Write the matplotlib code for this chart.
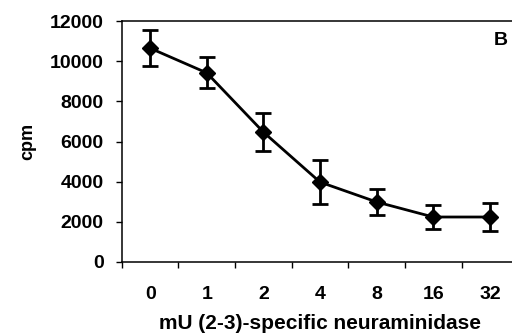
import numpy as np
import matplotlib
matplotlib.use('Agg')
import matplotlib.pyplot as plt

plt.rcParams['font.family'] = 'Liberation Sans'
plt.rcParams['font.weight'] = 'bold'

doses = ['0', '1', '2', '4', '8', '16', '32']
cpm = [10650, 9420, 6470, 3980, 2990, 2240, 2240]
err = [900, 770, 950, 1100, 670, 620, 700]

fig = plt.figure(figsize=(5.12, 3.35), dpi=100)
ax = fig.add_axes([0.238, 0.218, 0.774, 0.719])

x = np.arange(len(doses))
ax.errorbar(x, cpm, yerr=err, color='black', lw=2.0, marker='D', ms=8,
            elinewidth=2.0, capsize=5.5, capthick=2.0)

ax.set_xlim(-0.5, len(doses) - 0.5)
ax.set_ylim(0, 12000)
ax.set_yticks(range(0, 12001, 2000))
ax.set_xticks(x)
ax.set_xticklabels(doses)
ax.set_xticks(np.arange(-0.5, len(doses)), minor=True)
ax.tick_params(axis='x', which='major', length=0, pad=17, labelsize=14)
ax.tick_params(axis='x', which='minor', length=4, width=1, direction='out')
ax.tick_params(axis='y', length=4, width=1, direction='out', labelsize=14, pad=9)

for s in ['left', 'bottom', 'top']:
    ax.spines[s].set_linewidth(1.1)
ax.spines['right'].set_visible(False)

ax.set_ylabel('cpm', fontsize=13, fontweight='bold', labelpad=10)
ax.set_xlabel('mU (2-3)-specific neuraminidase', fontsize=15, fontweight='bold', labelpad=8)
fig.text(0.979, 0.88, 'B', fontsize=14, fontweight='bold', ha='center', va='center')

fig.savefig('out.png', dpi=100)
